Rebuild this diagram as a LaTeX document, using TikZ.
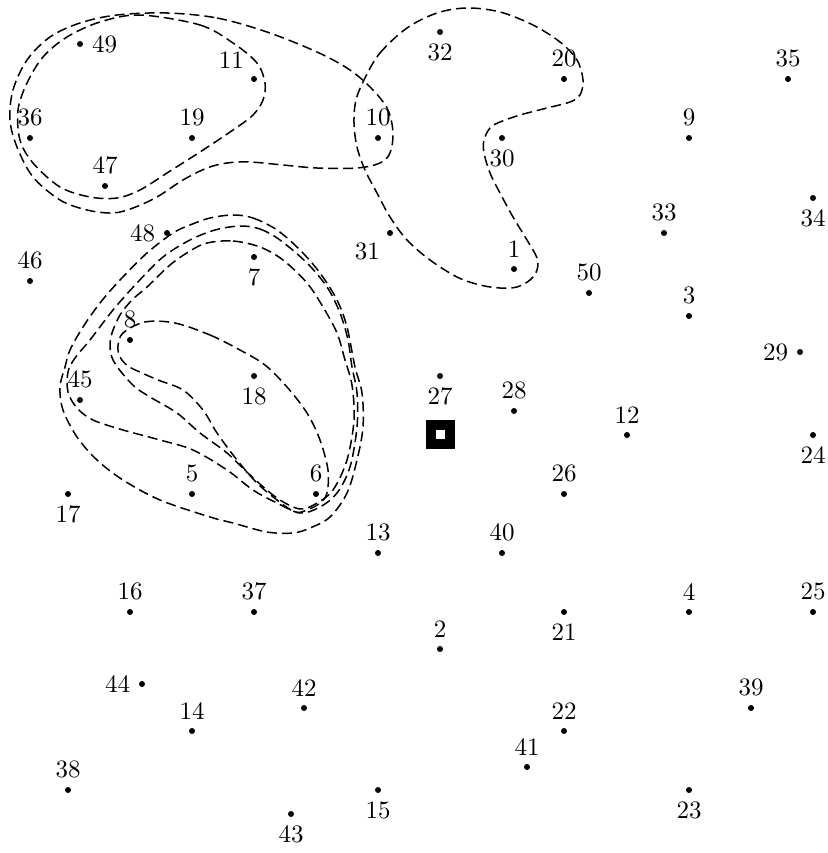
\documentclass[tikz,border=0pt]{standalone}
\begin{document}
\begin{tikzpicture}[x=0.4pt,y=-0.4pt,
  pt/.style={circle,fill=black,inner sep=0pt,minimum size=2.4pt},
  every label/.style={inner sep=2pt,font=\normalsize},
  label distance=1.2pt,
  hull/.style={line width=0.6pt,dash pattern=on 4pt off 2pt},
  smoothhull/.style={hull,smooth cycle,tension=0.55}]
\useasboundingbox (0,0) rectangle (827,853);
% points
\node[pt,label=right:49] (p49) at (80,44) {};
\node[pt,label=above left:11] (p11) at (254,79) {};
\node[pt,label=below:32] (p32) at (440,32) {};
\node[pt,label=above:20] (p20) at (564,79) {};
\node[pt,label=above:35] (p35) at (788,79) {};
\node[pt,label=above:36] (p36) at (30,138) {};
\node[pt,label=above:19] (p19) at (192,138) {};
\node[pt,label=above:10] (p10) at (378,138) {};
\node[pt,label=below:30] (p30) at (502,138) {};
\node[pt,label=above:9] (p9) at (689,138) {};
\node[pt,label=above:47] (p47) at (105,186) {};
\node[pt,label=below:34] (p34) at (813,198) {};
\node[pt,label=above:33] (p33) at (664,233) {};
\node[pt,label=left:48] (p48) at (167,233) {};
\node[pt,label=below left:31] (p31) at (390,233) {};
\node[pt,label=below:7] (p7) at (254,257) {};
\node[pt,label=above:1] (p1) at (514,269) {};
\node[pt,label=above:46] (p46) at (30,281) {};
\node[pt,label=above:50] (p50) at (589,293) {};
\node[pt,label=above:3] (p3) at (689,316) {};
\node[pt,label=above:8] (p8) at (130,340) {};
\node[pt,label=left:29] (p29) at (800,352) {};
\node[pt,label=below:18] (p18) at (254,376) {};
\node[pt,label=below:27] (p27) at (440,376) {};
\node[pt,label=above:45] (p45) at (80,400) {};
\node[pt,label=above:28] (p28) at (514,411) {};
\node[pt,label=above:12] (p12) at (627,435) {};
\node[pt,label=below:24] (p24) at (813,435) {};
\node[pt,label=above:5] (p5) at (192,494) {};
\node[pt,label=above:6] (p6) at (316,494) {};
\node[pt,label=below:17] (p17) at (68,494) {};
\node[pt,label=above:26] (p26) at (564,494) {};
\node[pt,label=above:13] (p13) at (378,553) {};
\node[pt,label=above:40] (p40) at (502,553) {};
\node[pt,label=above:16] (p16) at (130,612) {};
\node[pt,label=above:37] (p37) at (254,612) {};
\node[pt,label=below:21] (p21) at (564,612) {};
\node[pt,label=above:4] (p4) at (689,612) {};
\node[pt,label=above:25] (p25) at (813,612) {};
\node[pt,label=above:2] (p2) at (440,649) {};
\node[pt,label=left:44] (p44) at (142,684) {};
\node[pt,label=above:42] (p42) at (304,708) {};
\node[pt,label=above:39] (p39) at (751,708) {};
\node[pt,label=above:14] (p14) at (192,731) {};
\node[pt,label=above:22] (p22) at (564,731) {};
\node[pt,label=above:41] (p41) at (527,767) {};
\node[pt,label=above:38] (p38) at (68,790) {};
\node[pt,label=below:15] (p15) at (378,790) {};
\node[pt,label=below:23] (p23) at (689,790) {};
\node[pt,label=below:43] (p43) at (291,814) {};
% square
\node[fill=black,inner sep=0pt,minimum size=11.6pt] (sq) at (440.5,434.5) {};
\node[fill=white,inner sep=0pt,minimum size=3.6pt] (sqin) at (sq.center) {};
% hulls
\draw[smoothhull] plot coordinates {(140,15) (200,25) (233,43) (257,63) (265,83) (263,100) (253,115) (233,130) (200,152) (167,173) (140,190) (117,198) (90,197) (60,187) (33,163) (20,140) (18,110) (27,83) (43,57) (67,37) (100,22)};
\draw[smoothhull] plot coordinates {(167,13) (217,18) (267,32) (317,52) (350,70) (373,90) (388,110) (393,133) (390,153) (380,163) (357,168) (317,168) (283,165) (250,162) (227,163) (207,168) (183,180) (157,197) (133,208) (113,213) (87,210) (60,200) (33,177) (17,147) (10,120) (13,90) (27,60) (50,37) (80,23) (117,15)};
\draw[smoothhull] plot coordinates {(365,78) (380,53) (407,28) (437,13) (467,8) (500,12) (533,25) (560,42) (577,60) (583,80) (580,95) (570,102) (547,108) (520,115) (500,122) (490,128) (484,140) (484,153) (490,173) (500,193) (513,217) (527,240) (537,258) (537,270) (530,280) (517,287) (500,288) (480,285) (457,277) (430,260) (407,240) (390,217) (377,193) (365,170) (357,147) (354,123) (356,100)};
\draw[smoothhull] plot coordinates {(233,215) (253,218) (277,230) (300,250) (320,273) (337,300) (347,327) (355,367) (362,393) (363,427) (357,460) (347,493) (330,517) (310,528) (293,533) (267,532) (233,523) (210,517) (160,500) (123,480) (97,460) (77,437) (63,410) (60,387) (65,367) (70,350) (83,327) (100,303) (120,280) (147,253) (173,233) (190,225) (210,218)};
\draw[smoothhull] plot coordinates {(240,226) (260,229) (280,240) (307,263) (327,287) (340,313) (348,340) (352,367) (357,393) (357,427) (350,467) (337,493) (320,507) (300,513) (277,503) (253,490) (227,470) (193,450) (160,440) (123,430) (93,420) (77,408) (68,392) (68,372) (75,358) (90,340) (113,310) (137,283) (163,257) (190,240) (215,230)};
\draw[smoothhull] plot coordinates {(207,243) (233,241) (260,247) (283,260) (307,283) (323,307) (337,333) (345,360) (352,385) (354,420) (347,460) (333,490) (317,503) (300,509) (277,498) (250,475) (227,453) (200,433) (177,413) (150,397) (135,387) (122,373) (113,360) (110,347) (112,333) (120,315) (132,300) (147,287) (170,265) (190,251)};
\draw[smoothhull] plot coordinates {(175,323) (210,335) (240,350) (265,365) (287,387) (307,413) (320,440) (328,470) (327,493) (320,503) (307,510) (295,512) (277,500) (257,483) (237,460) (217,433) (203,410) (183,390) (158,380) (142,373) (128,366) (120,357) (118,346) (123,333) (145,322)};
\end{tikzpicture}
\end{document}
